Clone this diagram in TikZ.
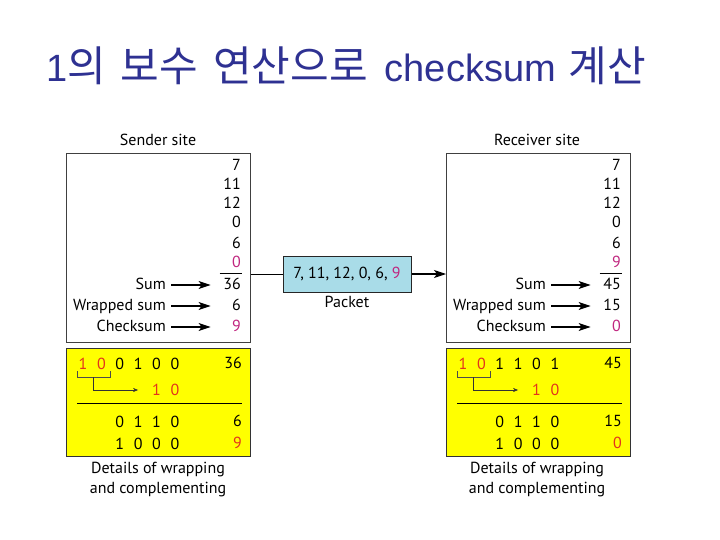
\documentclass[tikz,border=0pt]{standalone}
\usepackage{fontspec}
\setmainfont{PT Sans}
\newfontfamily\krfont{Noto Sans CJK KR}
\newfontfamily\latfont{Liberation Sans}
\usepackage{tikz}
\usetikzlibrary{arrows.meta, positioning}
\definecolor{titleblue}{HTML}{2E3192}
\definecolor{pktblue}{HTML}{A9DCE8}
\definecolor{numpink}{HTML}{C0267F}
\definecolor{wrapred}{HTML}{E3341C}
\definecolor{wrapyellow}{HTML}{FFFF00}

\begin{document}
\begin{tikzpicture}[x=1pt, y=-1pt, font=\fontsize{16}{19}\selectfont,
  site/.style={draw=black!75, line width=0.8pt, anchor=north west,
               minimum width=184pt, minimum height=189pt, inner sep=0pt},
  wrapbox/.style={draw=black!80, fill=wrapyellow, line width=0.8pt, anchor=north west,
                  minimum width=184pt, minimum height=108pt, inner sep=0pt},
  num/.style={anchor=east, inner sep=0pt, text width=24pt, align=right,
              text height=11pt, text depth=3pt},
  lbl/.style={anchor=east, inner sep=0pt, text height=11pt, text depth=3pt},
  bit/.style={inner sep=0pt},
  feed/.style={-{Stealth[length=12pt, width=8pt, inset=3pt]}, line width=1.1pt,
               shorten <=5pt, shorten >=6pt},
  brk/.style={draw=black!70, line width=0.5pt},
  wraparrow/.style={-{Stealth[length=5pt, width=4pt]}, black!80, line width=0.5pt,
                    shorten >=14pt}
]
\useasboundingbox (0,0) rectangle (720,540);

% ---- title --------------------------------------------------------------
\node[anchor=base west, inner sep=0pt, text=titleblue, font=\fontsize{42}{46}\selectfont]
  (title) at (46,82) {\latfont\fontsize{38}{44}\selectfont 1\krfont\fontsize{42}{46}\selectfont 의\hspace{15pt}보수\hspace{15pt}연산으로\hspace{17pt}\latfont\fontsize{38}{44}\selectfont checksum\hspace{13pt}\krfont\fontsize{42}{46}\selectfont 계산};

% ---- sender site --------------------------------------------------------
\node (shead) at (158,140) {Sender site};
\node[site] (sbox) at (66,153) {};
\foreach \v/\y/\c [count=\i] in {7/167/black, 11/186/black, 12/205/black,
                                 0/224/black, 6/244/black, 0/263/numpink}
  \node[num, text=\c] (s\i) at (241,\y) {\v};
\draw[line width=0.6pt] ([xshift=3pt, yshift=-3pt]s6.south west) -- ([xshift=1pt, yshift=-3pt]s6.south east);
\foreach \n/\t/\y/\v/\c in {sum/Sum/285/36/black, wsum/Wrapped sum/306/6/black,
                            csum/Checksum/327/9/numpink} {
  \node[lbl] (sl\n) at (166,\y) {\t};
  \node[num, text=\c] (sv\n) at (241,\y) {\v};
  \draw[feed] (sl\n) -- (sv\n);
}

% wrapping details
\node[wrapbox] (sybox) at (66,348) {};
\foreach \b/\c [count=\i] in {1/wrapred, 0/wrapred, 0/black, 1/black, 0/black, 0/black}
  \node[bit, text=\c] (sb\i) at ({83+18.4*(\i-1)},364) {\b};
\node[num] (sy1) at (242,364) {36};
\draw[brk] (77,371) -- (77,377) -- (110,377) -- (110,371);
\coordinate (swrap) at (93.5,377);
\node[bit, text=wrapred] (sw1) at (156.6,390) {1};
\node[bit, text=wrapred] (sw2) at (175,390) {0};
\draw[wraparrow] (swrap) |- (sw1);
\draw[line width=0.6pt] (77,403) -- (242,403);
\foreach \b [count=\i from 3] in {0,1,1,0}
  \node[bit] (sx\i) at ({83+18.4*(\i-1)},422) {\b};
\foreach \b [count=\i from 3] in {1,0,0,0}
  \node[bit] (sc\i) at ({83+18.4*(\i-1)},444) {\b};
\node[num] (sy2) at (242,422) {6};
\node[num, text=wrapred] (sy3) at (242,444) {9};
\node[align=center, font=\fontsize{16}{20}\selectfont] (sdet) at (158,480)
  {Details of wrapping\\and complementing};

% ---- packet -------------------------------------------------------------
\node[draw=black!85, fill=pktblue, line width=1pt, minimum width=128pt,
      minimum height=36pt] (pkt) at (347,274) {7, 11, 12, 0, 6, \textcolor{numpink}{9}};
\node[below=0pt of pkt] (pktlbl) {Packet};

% ---- receiver site ------------------------------------------------------
\node (rhead) at (537,140) {Receiver site};
\node[site] (rbox) at (446,153) {};
\foreach \v/\y/\c [count=\i] in {7/167/black, 11/186/black, 12/205/black,
                                 0/224/black, 6/244/black, 9/263/numpink}
  \node[num, text=\c] (r\i) at (621,\y) {\v};
\draw[line width=0.6pt] ([xshift=3pt, yshift=-3pt]r6.south west) -- ([xshift=1pt, yshift=-3pt]r6.south east);
\foreach \n/\t/\y/\v/\c in {sum/Sum/285/45/black, wsum/Wrapped sum/306/15/black,
                            csum/Checksum/327/0/numpink} {
  \node[lbl] (rl\n) at (546,\y) {\t};
  \node[num, text=\c] (rv\n) at (621,\y) {\v};
  \draw[feed] (rl\n) -- (rv\n);
}

% wrapping details
\node[wrapbox] (rybox) at (446,348) {};
\foreach \b/\c [count=\i] in {1/wrapred, 0/wrapred, 1/black, 1/black, 0/black, 1/black}
  \node[bit, text=\c] (rb\i) at ({463+18.4*(\i-1)},364) {\b};
\node[num] (ry1) at (622,364) {45};
\draw[brk] (457,371) -- (457,377) -- (490,377) -- (490,371);
\coordinate (rwrap) at (473.5,377);
\node[bit, text=wrapred] (rw1) at (536.6,390) {1};
\node[bit, text=wrapred] (rw2) at (555,390) {0};
\draw[wraparrow] (rwrap) |- (rw1);
\draw[line width=0.6pt] (457,403) -- (622,403);
\foreach \b [count=\i from 3] in {0,1,1,0}
  \node[bit] (rx\i) at ({463+18.4*(\i-1)},422) {\b};
\foreach \b [count=\i from 3] in {1,0,0,0}
  \node[bit] (rc\i) at ({463+18.4*(\i-1)},444) {\b};
\node[num] (ry2) at (622,422) {15};
\node[num, text=wrapred] (ry3) at (622,444) {0};
\node[align=center, font=\fontsize{16}{20}\selectfont] (rdet) at (537,480)
  {Details of wrapping\\and complementing};

% ---- transmission -------------------------------------------------------
\draw[line width=0.8pt] (sbox.east |- pkt.west) -- (pkt.west);
\draw[feed, shorten <=0pt, shorten >=0pt] (pkt.east) -- (rbox.west |- pkt.east);
\end{tikzpicture}
\end{document}
